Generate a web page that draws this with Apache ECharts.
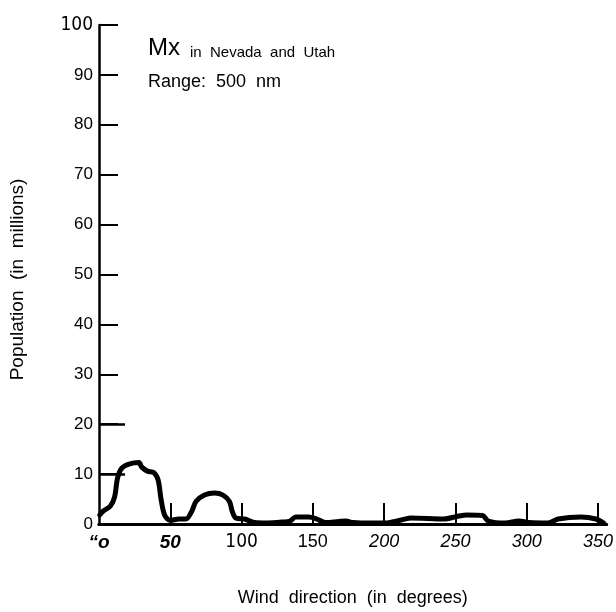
<!DOCTYPE html>
<html>
<head>
<meta charset="utf-8">
<script src="https://cdn.jsdelivr.net/npm/echarts@6/dist/echarts.min.js"></script>
<style>html,body{margin:0;padding:0;background:#fff}#c{width:616px;height:612px}</style>
</head>
<body>
<div id="c"></div>
<script>
// Data
var windDeg = [0.5, 3, 8, 11, 13, 16, 21, 28, 30, 34, 38.5, 41.5, 43.5, 46, 50, 56, 61, 65, 68, 74, 81, 87, 91.5, 93.5, 96, 102, 109, 118, 129, 134, 138, 147, 152, 159, 168, 173, 178, 184, 200, 212, 219, 242, 251, 258, 269, 273, 285, 294.5, 301.5, 315, 322, 338, 348.5, 354];
var population = [1.8, 2.6, 3.6, 5.5, 9.2, 11.2, 12, 12.3, 11.4, 10.6, 10.3, 8.8, 5, 1.8, 0.7, 1, 1, 2.5, 4.5, 5.8, 6.2, 5.8, 4.5, 2.5, 1.2, 1, 0.3, 0.2, 0.4, 0.6, 1.4, 1.4, 1.1, 0.3, 0.5, 0.6, 0.3, 0.2, 0.2, 0.8, 1.2, 1.0, 1.5, 1.8, 1.7, 0.6, 0.2, 0.6, 0.3, 0.2, 1.0, 1.4, 1.0, 0.2];
var xTickLabels = ['\u201co', '50', '100', '150', '200', '250', '300', '350'];
var xTickStyles = ['a', 'a', 'c', 'd', 'e', 'e', 'e', 'e'];
var yTickValues = [0, 10, 20, 30, 40, 50, 60, 70, 80, 90, 100];
var xTickValues = [50, 100, 150, 200, 250, 300, 350];
var longYTicks = [10, 20];
var titleMain = 'Mx';
var titleSub = 'in  Nevada  and  Utah';
var rangeText = 'Range:  500  nm';
var xName = 'Wind  direction  (in  degrees)';
var yName = 'Population  (in  millions)';

var data = windDeg.map(function (d, i) { return [d, population[i]]; });
var FF = '"Liberation Sans", Arial, Helvetica, sans-serif';
var NARROW = '"Liberation Sans Narrow", "DejaVu Sans Condensed", "Liberation Sans", sans-serif';

var chart = echarts.init(document.getElementById('c'), null, {renderer: 'canvas'});
chart.setOption({
  animation: false,
  backgroundColor: '#fff',
  title: {
    left: 143, top: 29,
    text: '{m|' + titleMain + '}  {s|' + titleSub + '}',
    textStyle: {
      fontWeight: 'normal',
      rich: {
        m: {fontFamily: FF, fontSize: 24, fontWeight: 'normal', color: '#000', verticalAlign: 'bottom', lineHeight: 26},
        s: {fontFamily: FF, fontSize: 15, fontWeight: 'normal', color: '#000', verticalAlign: 'bottom', lineHeight: 22}
      }
    },
    subtext: rangeText,
    itemGap: 15,
    subtextStyle: {fontFamily: FF, fontSize: 18, fontWeight: 'normal', color: '#000'}
  },
  grid: {left: 99, right: 0, top: 25, bottom: 74, containLabel: false},
  xAxis: [{
    type: 'value', min: 0, max: 356, interval: 50,
    name: xName, nameLocation: 'middle', nameGap: 65,
    nameTextStyle: {fontFamily: FF, fontSize: 18, color: '#000'},
    axisLine: {show: true, onZero: false, lineStyle: {color: '#000', width: 3}},
    axisTick: {show: true, inside: true, length: 21, customValues: xTickValues, lineStyle: {color: '#000', width: 2}},
    splitLine: {show: false},
    axisLabel: {
      margin: 9,
      formatter: function (v) {
        var i = Math.round(v / 50);
        if (i < 0 || i >= xTickLabels.length) return '';
        return '{' + xTickStyles[i] + '|' + xTickLabels[i] + '}';
      },
      rich: {
        a: {fontFamily: FF, fontSize: 19, fontStyle: 'italic', fontWeight: 'bold', color: '#000'},
        c: {fontFamily: NARROW, fontSize: 19, color: '#000'},
        d: {fontFamily: FF, fontSize: 18, color: '#000'},
        e: {fontFamily: FF, fontSize: 18, fontStyle: 'italic', color: '#000'}
      }
    }
  }, {
    type: 'value', position: 'top', min: 0, max: 356,
    axisLine: {show: true, lineStyle: {color: '#000', width: 3}},
    axisTick: {show: false}, axisLabel: {show: false}, splitLine: {show: false}
  }],
  yAxis: [{
    type: 'value', min: 0, max: 100, interval: 10,
    name: yName, nameLocation: 'middle', nameGap: 72, nameRotate: 90,
    nameTextStyle: {fontFamily: FF, fontSize: 19, color: '#000', padding: [0, 10, 0, 0]},
    axisLine: {show: true, onZero: false, lineStyle: {color: '#000', width: 2.5}},
    axisTick: {show: true, inside: true, length: 19, lineStyle: {color: '#000', width: 2}},
    splitLine: {show: false},
    axisLabel: {
      margin: 6,
      formatter: function (v) {
        if (yTickValues.indexOf(v) < 0) return '';
        return v === 100 ? '{n|' + v + '}' : '{r|' + v + '}';
      },
      rich: {
        n: {fontFamily: NARROW, fontSize: 19, color: '#000'},
        r: {fontFamily: FF, fontSize: 17, color: '#000'}
      }
    }
  }, {
    type: 'value', min: 0, max: 100, position: 'left',
    axisLine: {show: false},
    axisTick: {show: true, inside: true, length: 26, customValues: longYTicks, lineStyle: {color: '#000', width: 2.5}},
    axisLabel: {show: false}, splitLine: {show: false}
  }],
  series: [{
    type: 'line',
    xAxisIndex: 0, yAxisIndex: 0,
    data: data,
    showSymbol: false, symbol: 'none',
    smooth: 0.3,
    lineStyle: {color: '#000', width: 5, cap: 'round', join: 'round'},
    z: 3
  }]
});
</script>
</body>
</html>
